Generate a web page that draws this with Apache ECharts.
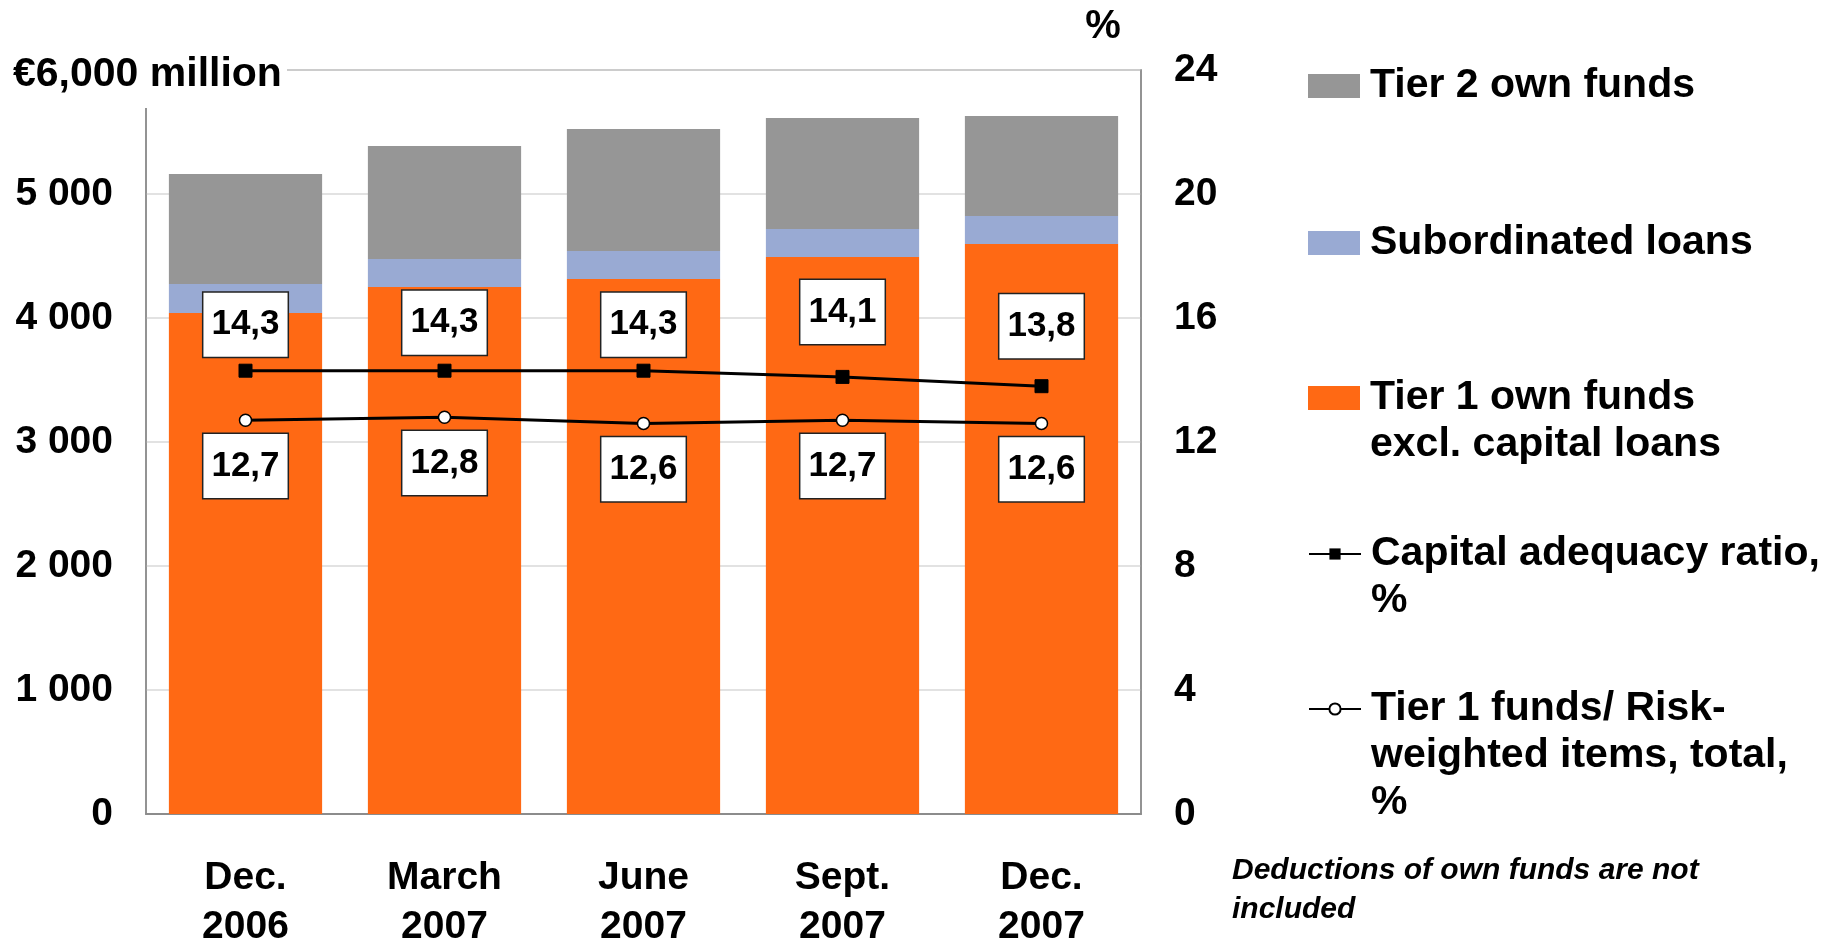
<!DOCTYPE html>
<html>
<head>
<meta charset="utf-8">
<script src="https://cdn.jsdelivr.net/npm/echarts@6/dist/echarts.min.js"></script>
<style>
html,body{margin:0;padding:0;background:#fff;}
#chart{width:1831px;height:942px;}
</style>
</head>
<body>
<div id="chart"></div>
<script>
// ---- data ----
const categories = ['Dec.\n2006', 'March\n2007', 'June\n2007', 'Sept.\n2007', 'Dec.\n2007'];
const tier1Funds = [4040, 4250, 4315, 4492, 4597];
const subordinatedLoans = [234, 226, 225, 226, 226];
const tier2Funds = [887, 911, 984, 895, 806];
const capitalAdequacyRatio = [14.3, 14.3, 14.3, 14.1, 13.8];
const tier1Ratio = [12.7, 12.8, 12.6, 12.7, 12.6];
const leftTicks = [0, 1000, 2000, 3000, 4000, 5000, 6000];
const rightTicks = [0, 4, 8, 12, 16, 20, 24];

const names = {
  tier2: 'Tier 2 own funds',
  sub: 'Subordinated loans',
  tier1: 'Tier 1 own funds\nexcl. capital loans',
  car: 'Capital adequacy ratio,\n%',
  t1r: 'Tier 1 funds/ Risk-\nweighted items, total,\n%'
};

const FF = '"Liberation Sans", Arial, Helvetica, sans-serif';
const fmtComma = v => v.toFixed(1).replace('.', ',');
const fmtThousands = v => v === 0 ? '0' : String(v).replace(/\B(?=(\d{3})+(?!\d))/g, ' ');

const LH = 47;
function legendFor(name, centerY, isLine) {
  const lines = name.split('\n').length;
  const ih = isLine ? 14 : 24;
  return {
    show: true,
    orient: 'vertical',
    left: 1308,
    top: centerY - (2 * lines - 1) * LH / 2,
    padding: 0,
    itemWidth: 52,
    itemHeight: ih,
    icon: isLine ? undefined : 'rect',
    selectedMode: false,
    data: [name],
    // leading blank lines put the first text line level with the icon
    formatter: n => '\n'.repeat(lines - 1) + n,
    textStyle: {
      fontFamily: FF, fontSize: 41, fontWeight: 'bold', color: '#000',
      lineHeight: LH, padding: [0, 0, 0, 5]
    }
  };
}

const labelBox = {
  show: true,
  formatter: p => fmtComma(p.value),
  fontFamily: FF, fontSize: 35, fontWeight: 'bold', color: '#000',
  lineHeight: 36,
  backgroundColor: '#fff',
  borderColor: '#222',
  borderWidth: 1.5,
  padding: [14, 8, 14, 8],
  distance: 7
};
// label nudges (manual label placement in the original slide)
const carLabelNudge = [0, -2, 0, -19, -14];

const chart = echarts.init(document.getElementById('chart'), null, {renderer: 'canvas'});
chart.setOption({
  animation: false,
  backgroundColor: '#fff',
  grid: {
    left: 146, right: 690, top: 70, bottom: 128,
    outerBoundsMode: 'none', containLabel: false,
    show: true, borderColor: '#8c8c8c', borderWidth: 1.5, backgroundColor: 'transparent'
  },
  legend: [
    legendFor(names.tier2, 86, false),
    legendFor(names.sub, 243, false),
    legendFor(names.tier1, 398, false),
    legendFor(names.car, 554, true),
    legendFor(names.t1r, 709, true)
  ],
  xAxis: {
    type: 'category',
    data: categories,
    axisLine: {show: true, lineStyle: {color: '#8c8c8c', width: 2}},
    axisTick: {show: false},
    axisLabel: {
      fontFamily: FF, fontSize: 39, fontWeight: 'bold', color: '#000',
      lineHeight: 49, margin: 40, interval: 0
    }
  },
  yAxis: [
    {
      type: 'value', min: 0, max: 6000, interval: 1000,
      axisLine: {show: true, lineStyle: {color: '#8c8c8c', width: 1.5}},
      axisTick: {show: false},
      splitLine: {show: true, lineStyle: {color: '#d9d9d9', width: 1.5}},
      axisLabel: {
        fontFamily: FF, fontSize: 39, fontWeight: 'bold', color: '#000', margin: 33,
        formatter: v => (leftTicks.indexOf(v) >= 0 && v !== 6000) ? fmtThousands(v) : ''
      }
    },
    {
      type: 'value', min: 0, max: 24, interval: 4, position: 'right',
      axisLine: {show: true, lineStyle: {color: '#8c8c8c', width: 1.5}},
      axisTick: {show: false},
      splitLine: {show: false},
      axisLabel: {
        fontFamily: FF, fontSize: 39, fontWeight: 'bold', color: '#000', margin: 33,
        formatter: v => rightTicks.indexOf(v) >= 0 ? String(v) : ''
      }
    }
  ],
  series: [
    {
      name: names.tier1, type: 'bar', stack: 'funds', data: tier1Funds,
      barCategoryGap: '23%', itemStyle: {color: '#FF6914'}
    },
    {
      name: names.sub, type: 'bar', stack: 'funds', data: subordinatedLoans,
      barCategoryGap: '23%', itemStyle: {color: '#99AAD3'}
    },
    {
      name: names.tier2, type: 'bar', stack: 'funds', data: tier2Funds,
      barCategoryGap: '23%', itemStyle: {color: '#969696'}
    },
    {
      name: names.car, type: 'line', yAxisIndex: 1,
      data: capitalAdequacyRatio.map((v, i) => ({value: v, label: {offset: [0, carLabelNudge[i]]}})),
      symbol: 'rect', symbolSize: 13,
      lineStyle: {color: '#000', width: 3},
      itemStyle: {color: '#000', borderColor: '#000'},
      label: Object.assign({}, labelBox, {position: 'top'}),
      z: 5
    },
    {
      name: names.t1r, type: 'line', yAxisIndex: 1, data: tier1Ratio,
      symbol: 'circle', symbolSize: 12, showAllSymbol: true,
      lineStyle: {color: '#000', width: 3},
      itemStyle: {color: '#fff', borderColor: '#000', borderWidth: 1.5},
      label: Object.assign({}, labelBox, {position: 'bottom'}),
      z: 5
    }
  ],
  graphic: [
    {type: 'rect', left: 0, top: 0, z: 100, shape: {width: 287, height: 108}, style: {fill: '#fff'}},
    {type: 'text', x: 13, y: 75, z: 101,
      style: {text: '€6,000 million', font: 'bold 41px ' + FF, fill: '#000', verticalAlign: 'middle', align: 'left'}},
    {type: 'text', x: 1103, y: 27, z: 101,
      style: {text: '%', font: 'bold 40px ' + FF, fill: '#000', verticalAlign: 'middle', align: 'center'}},
    {type: 'text', x: 1232, y: 851, z: 101,
      style: {text: 'Deductions of own funds are not\nincluded', font: 'italic bold 30px ' + FF,
        lineHeight: 39, fill: '#000', verticalAlign: 'top', align: 'left'}}
  ]
});
</script>
</body>
</html>
